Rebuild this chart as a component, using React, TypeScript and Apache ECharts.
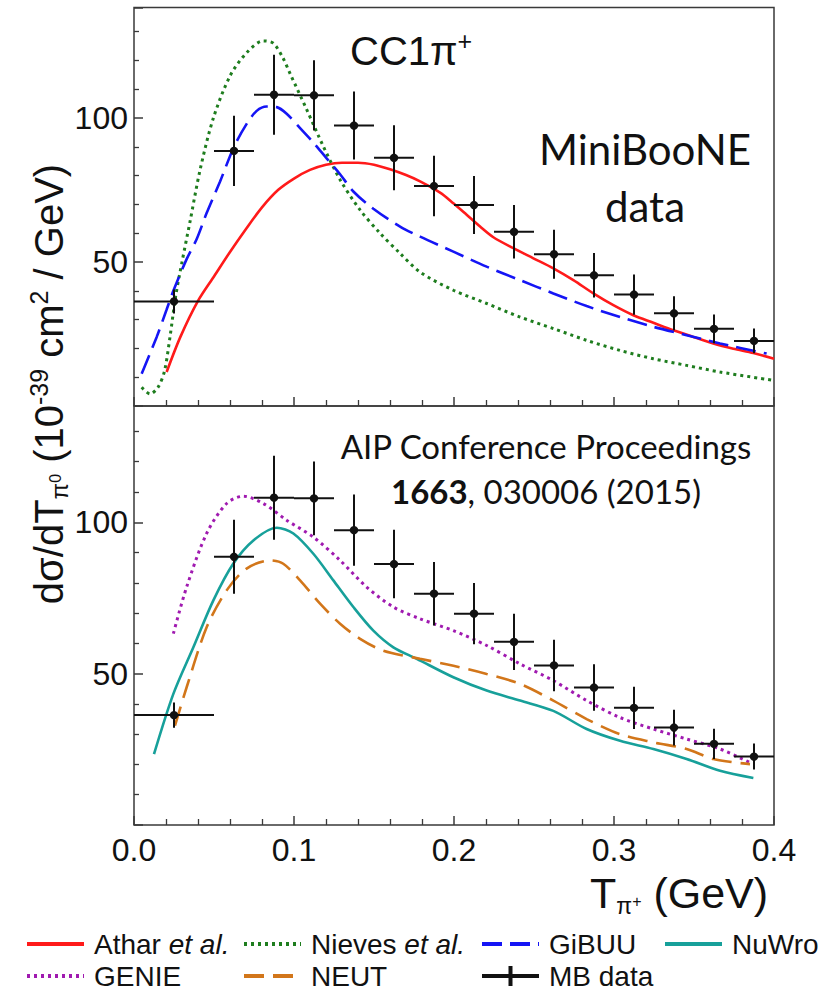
import React, { useEffect, useRef } from 'react';
import * as echarts from 'echarts';

// ---------- data ----------
const xTickLabels = ['0.0', '0.1', '0.2', '0.3', '0.4'];
const yTickLabels = [50, 100];

const mbX = [0.025, 0.0625, 0.0875, 0.1125, 0.1375, 0.1625, 0.1875, 0.2125, 0.2375, 0.2625, 0.2875, 0.3125, 0.3375, 0.3625, 0.3875];
const mbXLow = [0, 0.05, 0.075, 0.1, 0.125, 0.15, 0.175, 0.2, 0.225, 0.25, 0.275, 0.3, 0.325, 0.35, 0.375];
const mbXHigh = [0.05, 0.075, 0.1, 0.125, 0.15, 0.175, 0.2, 0.225, 0.25, 0.275, 0.3, 0.325, 0.35, 0.375, 0.4];
const mbY = [36.3, 88.6, 108.1, 107.9, 97.4, 86.2, 76.4, 69.8, 60.5, 52.7, 45.4, 38.7, 32.2, 26.8, 22.6];
const mbErr = [4.2, 12.2, 13.9, 12.2, 11.8, 11.3, 10.5, 10.1, 9.3, 8.5, 7.7, 7.0, 5.9, 5.0, 4.3];

const athar = [
  [0.0204, 11.8], [0.029, 24], [0.04, 36.5], [0.05, 45], [0.06, 53.5], [0.07, 61.5], [0.08, 69], [0.09, 75],
  [0.1, 79], [0.11, 82], [0.12, 83.8], [0.13, 84.5], [0.14, 84.5], [0.15, 83.8], [0.16, 82.2], [0.17, 80.2],
  [0.1788, 78.0], [0.1913, 74.1], [0.1996, 70.4], [0.2079, 66.4], [0.2163, 62.3], [0.2246, 58.6], [0.2371, 54.8],
  [0.2496, 51.3], [0.2621, 47.8], [0.2746, 43.7], [0.2871, 39.1], [0.2996, 35.0], [0.3121, 31.5], [0.3246, 28.9],
  [0.3371, 26.3], [0.3496, 24.0], [0.3621, 21.7], [0.3746, 19.9], [0.3871, 18.4], [0.4, 16.4],
];
const nieves = [
  [0.0048, 6.5], [0.01, 4.2], [0.015, 6.5], [0.019, 12], [0.0225, 24], [0.026, 38], [0.03, 50], [0.035, 64],
  [0.0413, 82], [0.0496, 100], [0.06, 114.6], [0.0704, 122.7], [0.0808, 126.8], [0.087, 126], [0.093, 121],
  [0.0975, 115.5], [0.1079, 103], [0.1183, 90.2], [0.1288, 78.6], [0.1413, 68.1], [0.1538, 60], [0.1663, 53],
  [0.1788, 46.5], [0.1996, 40.2], [0.2204, 35.6], [0.2413, 30.9], [0.2621, 26.9], [0.2829, 22.8], [0.3038, 19.3],
  [0.3246, 16.4], [0.3454, 14.1], [0.3663, 11.8], [0.3996, 8.9],
];
const gibuu = [
  [0.0048, 11.2], [0.0142, 24], [0.0204, 33.5], [0.0246, 40], [0.0329, 51], [0.0392, 58], [0.0454, 67],
  [0.0538, 78], [0.0625, 90], [0.0704, 98], [0.0767, 102.5], [0.0829, 104], [0.0892, 103.8], [0.0954, 101.5],
  [0.1038, 96.5], [0.1121, 91.5], [0.1204, 86], [0.1288, 80.5], [0.1371, 74.5], [0.1496, 68.5], [0.1663, 62.3],
  [0.1788, 58.8], [0.1996, 53.6], [0.2204, 48.4], [0.2413, 43.7], [0.2621, 39.1], [0.2829, 34.7], [0.3038, 30.9],
  [0.3246, 27.5], [0.3454, 24.6], [0.3663, 21.7], [0.3954, 18.2],
];
const nuwro = [
  [0.0125, 23.4], [0.0246, 43.3], [0.0371, 58.7], [0.0496, 74.2], [0.062, 86.3], [0.0746, 94], [0.0892, 98.2],
  [0.0996, 96.3], [0.1121, 89.6], [0.1246, 80.8], [0.1371, 72], [0.1496, 64.2], [0.1621, 58.7], [0.1767, 54.9],
  [0.1996, 48.8], [0.2204, 44.4], [0.2413, 41.1], [0.2621, 37.7], [0.2829, 31.7], [0.3038, 27.8], [0.3246, 25.1],
  [0.3454, 21.8], [0.3663, 17.9], [0.3871, 15.5],
];
const genie = [
  [0.0246, 63.2], [0.0329, 78.6], [0.0454, 96.3], [0.0579, 106.2], [0.0683, 108.6], [0.0808, 106.2], [0.0954, 100.7],
  [0.1121, 95.1], [0.1288, 87.4], [0.1454, 78.6], [0.1621, 72], [0.1788, 68.1], [0.1996, 64.2], [0.2204, 59.3],
  [0.2413, 53.2], [0.2621, 47.7], [0.2829, 41.1], [0.3038, 35.5], [0.3246, 31.7], [0.3454, 28.4], [0.3663, 25.1],
  [0.385, 20.6],
];
const neut = [
  [0.0256, 32.8], [0.0329, 45.5], [0.0454, 65.3], [0.0579, 77.5], [0.0704, 84.7], [0.085, 87.4], [0.0933, 86.3],
  [0.1038, 80.8], [0.1163, 73.1], [0.1288, 66.5], [0.1413, 61.5], [0.1558, 57.6], [0.1788, 54.9], [0.1996, 52.6],
  [0.2204, 49.9], [0.2413, 46.6], [0.2621, 41.1], [0.2829, 35], [0.3038, 30], [0.3246, 27.3], [0.3454, 25.1],
  [0.3621, 21.8], [0.385, 20.1],
];

// ---------- styling ----------
const FONT = '"Liberation Sans", Arial, sans-serif';
const CAL = 'Lato, "Open Sans", sans-serif';
const FRAME = '#3a3a3a';
const INK = '#111';

const buildOption = () => {
  const mbData = mbX.map((x, i) => [x, mbY[i], mbXLow[i], mbXHigh[i], mbErr[i]]);

  const renderMB = (_params: any, api: any) => {
    const x = api.value(0), y = api.value(1), xl = api.value(2), xh = api.value(3), e = api.value(4);
    const c = api.coord([x, y]);
    const l = api.coord([xl, y]);
    const r = api.coord([xh, y]);
    const t = api.coord([x, y + e]);
    const b = api.coord([x, y - e]);
    const st = { stroke: INK, lineWidth: 2 };
    return {
      type: 'group',
      children: [
        { type: 'line', shape: { x1: l[0], y1: l[1], x2: r[0], y2: r[1] }, style: st },
        { type: 'line', shape: { x1: t[0], y1: t[1], x2: b[0], y2: b[1] }, style: st },
        { type: 'circle', shape: { cx: c[0], cy: c[1], r: 4.2 }, style: { fill: INK } },
      ],
    };
  };

  const xAxis = (gridIndex: number, showLabels: boolean) => ({
    type: 'value', gridIndex, min: 0, max: 0.4, interval: 0.1,
    axisLine: { show: false },
    axisTick: { show: true, inside: true, length: 9, lineStyle: { color: FRAME, width: 1.5 } },
    minorTick: { show: true, splitNumber: 5, length: 6, lineStyle: { color: FRAME, width: 1.3 } },
    splitLine: { show: false },
    axisLabel: {
      show: showLabels, margin: 9, fontSize: 32, fontFamily: FONT, color: INK,
      formatter: (v: number) => xTickLabels[Math.round(v * 10)] ?? '',
    },
  });
  const yAxis = (gridIndex: number) => ({
    type: 'value', gridIndex, min: 0, max: 138.4, interval: 50,
    axisLine: { show: false },
    axisTick: { show: true, inside: true, length: 9, lineStyle: { color: FRAME, width: 1.5 } },
    minorTick: { show: true, splitNumber: 5, length: 5, lineStyle: { color: FRAME, width: 1.3 } },
    splitLine: { show: false },
    axisLabel: {
      margin: 6, fontSize: 32, fontFamily: FONT, color: INK, showMinLabel: false, showMaxLabel: false,
      formatter: (v: number) => (yTickLabels.includes(v) ? String(v) : ''),
    },
  });

  const curve = (name: string, data: number[][], gi: number, color: string, type: any, width = 2.6) => ({
    name, type: 'line', xAxisIndex: gi, yAxisIndex: gi, data, smooth: 0.3,
    symbol: 'none', showSymbol: false, silent: true, z: 2,
    lineStyle: { color, width, type, cap: 'butt' }, itemStyle: { color },
  });

  const mbSeries = (gi: number) => ({
    name: 'MB data', type: 'custom', xAxisIndex: gi, yAxisIndex: gi, data: mbData,
    renderItem: renderMB, encode: { x: 0, y: 1 }, itemStyle: { color: INK }, silent: true, z: 5,
  });

  const legendText = {
    fontSize: 28, fontFamily: FONT, color: INK, lineHeight: 30, padding: [0, 0, 0, 5],
    rich: { i: { fontStyle: 'italic', fontSize: 28, fontFamily: FONT, color: INK, lineHeight: 30 } },
  };
  const legendFmt = (name: string) => (name.endsWith(' et al.') ? `${name.slice(0, -7)} {i|et al.}` : name);
  const lineItem = (name: string) => ({ name, itemStyle: { opacity: 0 } });
  const legendBase = {
    orient: 'vertical', top: 929, height: 62, width: 200, padding: 0, itemGap: 2, itemWidth: 57, itemHeight: 14,
    selectedMode: false, textStyle: legendText, formatter: legendFmt, lineStyle: { width: 4 },
  };

  return {
    animation: false,
    backgroundColor: '#fff',
    grid: [
      { left: 134, top: 7.5, width: 640, height: 398.5, show: true, borderColor: FRAME, borderWidth: 1.5, backgroundColor: 'transparent' },
      { left: 134, top: 406, width: 640, height: 419, show: true, borderColor: FRAME, borderWidth: 1.5, backgroundColor: 'transparent' },
    ],
    xAxis: [xAxis(0, false), xAxis(1, true)],
    yAxis: [yAxis(0), yAxis(1)],
    legend: [
      { ...legendBase, left: 25, data: [lineItem('Athar et al.'), lineItem('GENIE')] },
      { ...legendBase, left: 242, data: [lineItem('Nieves et al.'), lineItem('NEUT')] },
      {
        ...legendBase, left: 480, itemHeight: 20,
        data: [
          lineItem('GiBUU'),
          { name: 'MB data', icon: 'path://M0,8L57,8L57,12L0,12Z M26.5,0L30.5,0L30.5,20L26.5,20Z', itemStyle: { opacity: 1 } },
        ],
      },
      { ...legendBase, left: 663, width: 170, data: [lineItem('NuWro')] },
    ],
    series: [
      curve('Athar et al.', athar, 0, '#ff1a1a', 'solid'),
      curve('Nieves et al.', nieves, 0, '#1e7d1e', [3, 4], 3),
      curve('GiBUU', gibuu, 0, '#1515f5', [20, 8]),
      mbSeries(0),
      curve('NuWro', nuwro, 1, '#17a09a', 'solid'),
      curve('GENIE', genie, 1, '#a01ab0', [3, 4], 3),
      curve('NEUT', neut, 1, '#d2761a', [20, 9]),
      mbSeries(1),
    ],
    graphic: [
      {
        type: 'text', x: 49, y: 384, rotation: Math.PI / 2, silent: true,
        style: {
          text: '{m|dσ/dT}{s|π}{t|0}{m| (10}{p|-39}{m| cm}{p|2}{m| / GeV)}',
          align: 'center', verticalAlign: 'middle', fill: INK, fontFamily: FONT, fontSize: 40,
          rich: {
            m: { fontSize: 40, fontFamily: FONT, lineHeight: 46, verticalAlign: 'middle', fill: INK },
            s: { fontSize: 24, fontFamily: FONT, lineHeight: 24, padding: [21, 0, 0, 0], verticalAlign: 'middle', fill: INK },
            t: { fontSize: 16, fontFamily: FONT, lineHeight: 16, padding: [13, 0, 0, 0], verticalAlign: 'middle', fill: INK },
            p: { fontSize: 25, fontFamily: FONT, lineHeight: 25, padding: [0, 0, 20, 0], verticalAlign: 'middle', fill: INK },
          },
        },
      },
      {
        type: 'text', x: 590, y: 893, silent: true,
        style: {
          text: '{m|T}{s|π}{t|+}{m| (GeV)}',
          align: 'left', verticalAlign: 'middle', fill: INK, fontFamily: FONT, fontSize: 43,
          rich: {
            m: { fontSize: 43, fontFamily: FONT, lineHeight: 48, verticalAlign: 'middle', fill: INK },
            s: { fontSize: 23, fontFamily: FONT, lineHeight: 23, padding: [25, 0, 0, 0], verticalAlign: 'middle', fill: INK },
            t: { fontSize: 16, fontFamily: FONT, lineHeight: 16, padding: [17, 0, 0, 0], verticalAlign: 'middle', fill: INK },
          },
        },
      },
      {
        type: 'text', x: 350, y: 51, silent: true,
        style: {
          text: '{m|CC1π}{p|+}',
          align: 'left', verticalAlign: 'middle', fill: INK, fontFamily: FONT, fontSize: 40,
          rich: {
            m: { fontSize: 40, fontFamily: FONT, lineHeight: 46, verticalAlign: 'middle', fill: INK },
            p: { fontSize: 25, fontFamily: FONT, lineHeight: 25, padding: [0, 0, 21, 0], verticalAlign: 'middle', fill: INK },
          },
        },
      },
      {
        type: 'text', x: 645, y: 177, silent: true,
        style: {
          text: 'MiniBooNE\ndata', align: 'center', verticalAlign: 'middle', fill: INK,
          fontFamily: CAL, fontSize: 42, lineHeight: 57,
        },
      },
      {
        type: 'text', x: 546, y: 468, silent: true,
        style: {
          text: 'AIP Conference Proceedings\n{b|1663}, 030006 (2015)', align: 'center', verticalAlign: 'middle', fill: INK,
          fontFamily: CAL, fontSize: 33, lineHeight: 45,
          rich: { b: { fontFamily: CAL, fontSize: 33, lineHeight: 45, fontWeight: 'bold', fill: INK } },
        },
      },
    ],
  };
};

export default function App() {
  const ref = useRef<HTMLDivElement>(null);
  useEffect(() => {
    if (!ref.current) return;
    const chart = echarts.init(ref.current, null, { renderer: 'svg' });
    chart.setOption(buildOption() as any);
    return () => chart.dispose();
  }, []);
  return <div ref={ref} style={{ position: 'absolute', left: 0, top: 0, width: 840, height: 992 }} />;
}
